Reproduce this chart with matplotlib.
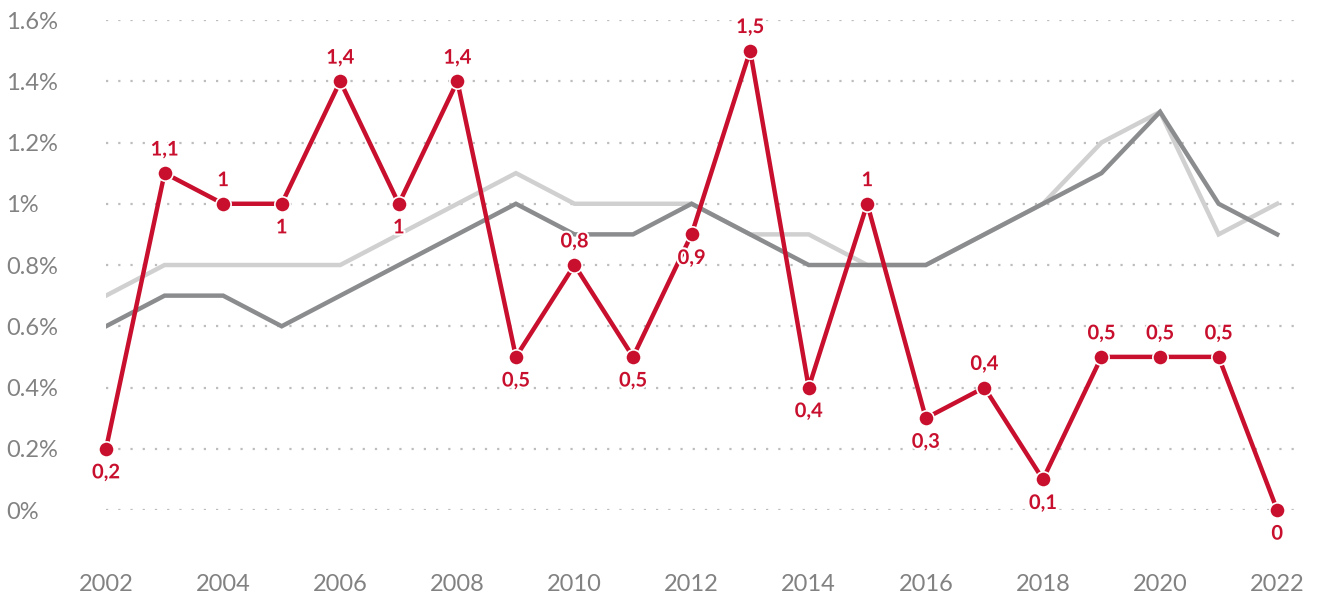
import matplotlib
matplotlib.use("Agg")
import matplotlib.pyplot as plt
import matplotlib.patheffects as pe
import numpy as np

years = list(range(2002, 2023))
light_vals = [0.7, 0.8, 0.8, 0.8, 0.8, 0.9, 1.0, 1.1, 1.0, 1.0, 1.0,
              0.9, 0.9, 0.8, 0.8, 0.9, 1.0, 1.2, 1.3, 0.9, 1.0]
dark_vals = [0.6, 0.7, 0.7, 0.6, 0.7, 0.8, 0.9, 1.0, 0.9, 0.9, 1.0,
             0.9, 0.8, 0.8, 0.8, 0.9, 1.0, 1.1, 1.3, 1.0, 0.9]
red_vals = [0.2, 1.1, 1.0, 1.0, 1.4, 1.0, 1.4, 0.5, 0.8, 0.5, 0.9,
            1.5, 0.4, 1.0, 0.3, 0.4, 0.1, 0.5, 0.5, 0.5, 0.0]
red_labels = ["0,2", "1,1", "1", "1", "1,4", "1", "1,4", "0,5", "0,8", "0,5", "0,9",
              "1,5", "0,4", "1", "0,3", "0,4", "0,1", "0,5", "0,5", "0,5", "0"]
# +1 label above the point, -1 below
label_side = [-1, 1, 1, -1, 1, -1, 1, -1, 1, -1, -1,
              1, -1, 1, -1, 1, -1, 1, 1, 1, -1]
yticks = [0, 0.2, 0.4, 0.6, 0.8, 1.0, 1.2, 1.4, 1.6]
ytick_labels = ["0%", "0.2%", "0.4%", "0.6%", "0.8%", "1%", "1.2%", "1.4%", "1.6%"]
xticks = list(range(2002, 2023, 2))

red = "#C8102E"
dark = "#8A8C8E"
light = "#D0D0D0"
tick_col = "#828282"

fig = plt.figure(figsize=(13.17, 6.01), dpi=100)
ax = fig.add_axes([0.0805, 0.1514, 0.9066, 0.8153])

ax.plot(years, light_vals, color=light, lw=3.2, zorder=2, solid_joinstyle="miter")
ax.plot(years, dark_vals, color=dark, lw=3.2, zorder=3, solid_joinstyle="miter")
ax.plot(years, red_vals, color=red, lw=3.2, zorder=4, marker="o", ms=11,
        markeredgecolor="white", markeredgewidth=1.2, clip_on=False)

for x, y, t, s in zip(years, red_vals, red_labels, label_side):
    ax.annotate(t, (x, y), xytext=(0, 17 * s), textcoords="offset points",
                ha="center", va="center", color=red, fontsize=14.5,
                fontweight="bold", family="Lato", zorder=5,
                path_effects=[pe.withStroke(linewidth=3, foreground="white")])

ax.set_xlim(2002, 2022.39)
ax.set_ylim(0, 1.6)
ax.set_yticks(yticks)
ax.set_yticklabels(ytick_labels)
ax.set_xticks(xticks)

ax.grid(axis="y", color="#BDBDBD", linestyle=(0, (1, 4.5)), linewidth=1.6, zorder=1)
ax.grid(axis="x", visible=False)
for sp in ax.spines.values():
    sp.set_visible(False)

ax.tick_params(axis="y", length=0, pad=72, labelsize=17, labelcolor=tick_col)
ax.tick_params(axis="x", length=0, pad=46, labelsize=17, labelcolor=tick_col)
for lab in ax.get_yticklabels():
    lab.set_horizontalalignment("left")
    lab.set_family("Lato")
for lab in ax.get_xticklabels():
    lab.set_family("Lato")

fig.savefig("out.png", dpi=100)
